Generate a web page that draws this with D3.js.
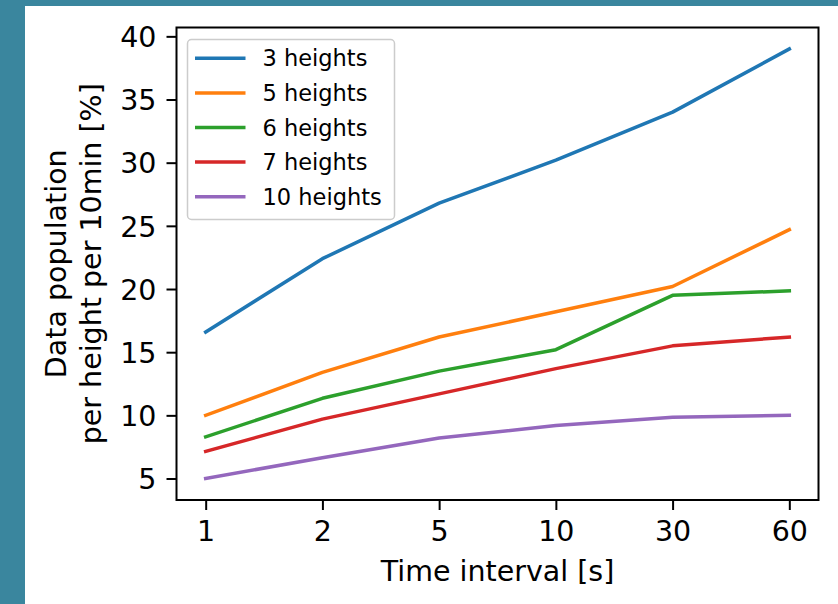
<!DOCTYPE html>
<html>
<head>
<meta charset="utf-8">
<script src="https://cdn.jsdelivr.net/npm/d3@7"></script>
<style>
  html, body { margin: 0; padding: 0; background: #ffffff; }
  svg { display: block; }
  text { font-family: "DejaVu Sans", sans-serif; fill: #000; }
</style>
</head>
<body>
<svg id="chart" width="838" height="604"></svg>
<script>
// Sampling intervals (categorical x axis)
const intervals = ["1", "2", "5", "10", "30", "60"];

// Data population per height per 10 min [%] for each number of heights
const heights3  = [16.6, 22.4, 26.8, 30.2, 34.0, 39.0];
const heights5  = [10.0, 13.4, 16.2, 18.2, 20.2, 24.7];
const heights6  = [8.3, 11.35, 13.5, 15.2, 19.5, 19.85];
const heights7  = [7.15, 9.7, 11.7, 13.7, 15.5, 16.2];
const heights10 = [5.0, 6.65, 8.2, 9.2, 9.85, 10.0];

const seriesNames = ["3 heights", "5 heights", "6 heights", "7 heights", "10 heights"];
const yTicks = [5, 10, 15, 20, 25, 30, 35, 40];

const seriesValues = [heights3, heights5, heights6, heights7, heights10];
const colors = ["#1f77b4", "#ff7f0e", "#2ca02c", "#d62728", "#9467bd"];

const svg = d3.select("#chart");

// Page frame: teal band on the left and top
svg.append("rect").attr("x", 0).attr("y", 0).attr("width", 838).attr("height", 604).attr("fill", "#ffffff");
svg.append("rect").attr("x", 0).attr("y", 0).attr("width", 838).attr("height", 6).attr("fill", "#3a869e");
svg.append("rect").attr("x", 0).attr("y", 0).attr("width", 25).attr("height", 604).attr("fill", "#3a869e");

const plot = { left: 176.5, right: 818.5, top: 27.5, bottom: 500 };

const x = d3.scalePoint()
  .domain(intervals)
  .range([plot.left, plot.right])
  .padding(0.25);

// 5% margin around the data range
const allValues = seriesValues.flat();
const yMin = d3.min(allValues), yMax = d3.max(allValues), ySpan = yMax - yMin;
const y = d3.scaleLinear()
  .domain([yMin - 0.05 * ySpan, yMax + 0.05 * ySpan])
  .range([plot.bottom, plot.top]);

// Lines
const line = d3.line()
  .x((d, i) => x(intervals[i]))
  .y(d => y(d));

const lines = svg.append("g");
seriesValues.forEach((vals, k) => {
  lines.append("path")
    .datum(vals)
    .attr("d", line)
    .attr("fill", "none")
    .attr("stroke", colors[k])
    .attr("stroke-width", 3.5)
    .attr("stroke-linejoin", "round")
    .attr("stroke-linecap", "square");
});

// Axes
const tickLen = 10;
const tickFont = 28.5;
const xAxis = svg.append("g")
  .attr("transform", `translate(0,${plot.bottom})`)
  .call(d3.axisBottom(x).tickSize(tickLen).tickPadding(11).tickSizeOuter(0));
const yAxis = svg.append("g")
  .attr("transform", `translate(${plot.left},0)`)
  .call(d3.axisLeft(y).tickValues(yTicks).tickFormat(d3.format("d")).tickSize(tickLen).tickPadding(10).tickSizeOuter(0));

[xAxis, yAxis].forEach(g => {
  g.select(".domain").remove();
  g.selectAll(".tick line").attr("stroke", "#000").attr("stroke-width", 2);
  g.selectAll(".tick text")
    .attr("font-family", "DejaVu Sans")
    .attr("font-size", tickFont)
    .attr("fill", "#000");
});
xAxis.selectAll(".tick text").attr("dy", "0.71em");
yAxis.selectAll(".tick text").attr("dy", "0.36em");

// Frame around plot area
svg.append("rect")
  .attr("x", plot.left).attr("y", plot.top)
  .attr("width", plot.right - plot.left).attr("height", plot.bottom - plot.top)
  .attr("fill", "none").attr("stroke", "#000").attr("stroke-width", 2);

// Axis titles
svg.append("text")
  .attr("x", (plot.left + plot.right) / 2)
  .attr("y", 581)
  .attr("text-anchor", "middle")
  .attr("font-size", 28.5)
  .text("Time interval [s]");

const yTitle = svg.append("text")
  .attr("transform", `translate(0,${(plot.top + plot.bottom) / 2}) rotate(-90)`)
  .attr("text-anchor", "middle")
  .attr("font-size", 28.5);
yTitle.append("tspan").attr("x", 0).attr("y", 66).text("Data population");
yTitle.append("tspan").attr("x", 0).attr("y", 101).text("per height per 10min [%]");

// Legend
const legend = svg.append("g");
legend.append("rect")
  .attr("x", 187.5).attr("y", 39.5)
  .attr("width", 207).attr("height", 180)
  .attr("rx", 4).attr("ry", 4)
  .attr("fill", "#ffffff").attr("fill-opacity", 0.8)
  .attr("stroke", "#cccccc").attr("stroke-width", 1.5);

seriesNames.forEach((name, k) => {
  const cy = 58.3 + k * 34.6;
  legend.append("line")
    .attr("x1", 195).attr("x2", 245.5)
    .attr("y1", cy).attr("y2", cy)
    .attr("stroke", colors[k]).attr("stroke-width", 3.5);
  legend.append("text")
    .attr("x", 262.5).attr("y", cy)
    .attr("dy", "0.36em")
    .attr("font-size", 22.5)
    .text(name);
});
</script>
</body>
</html>
